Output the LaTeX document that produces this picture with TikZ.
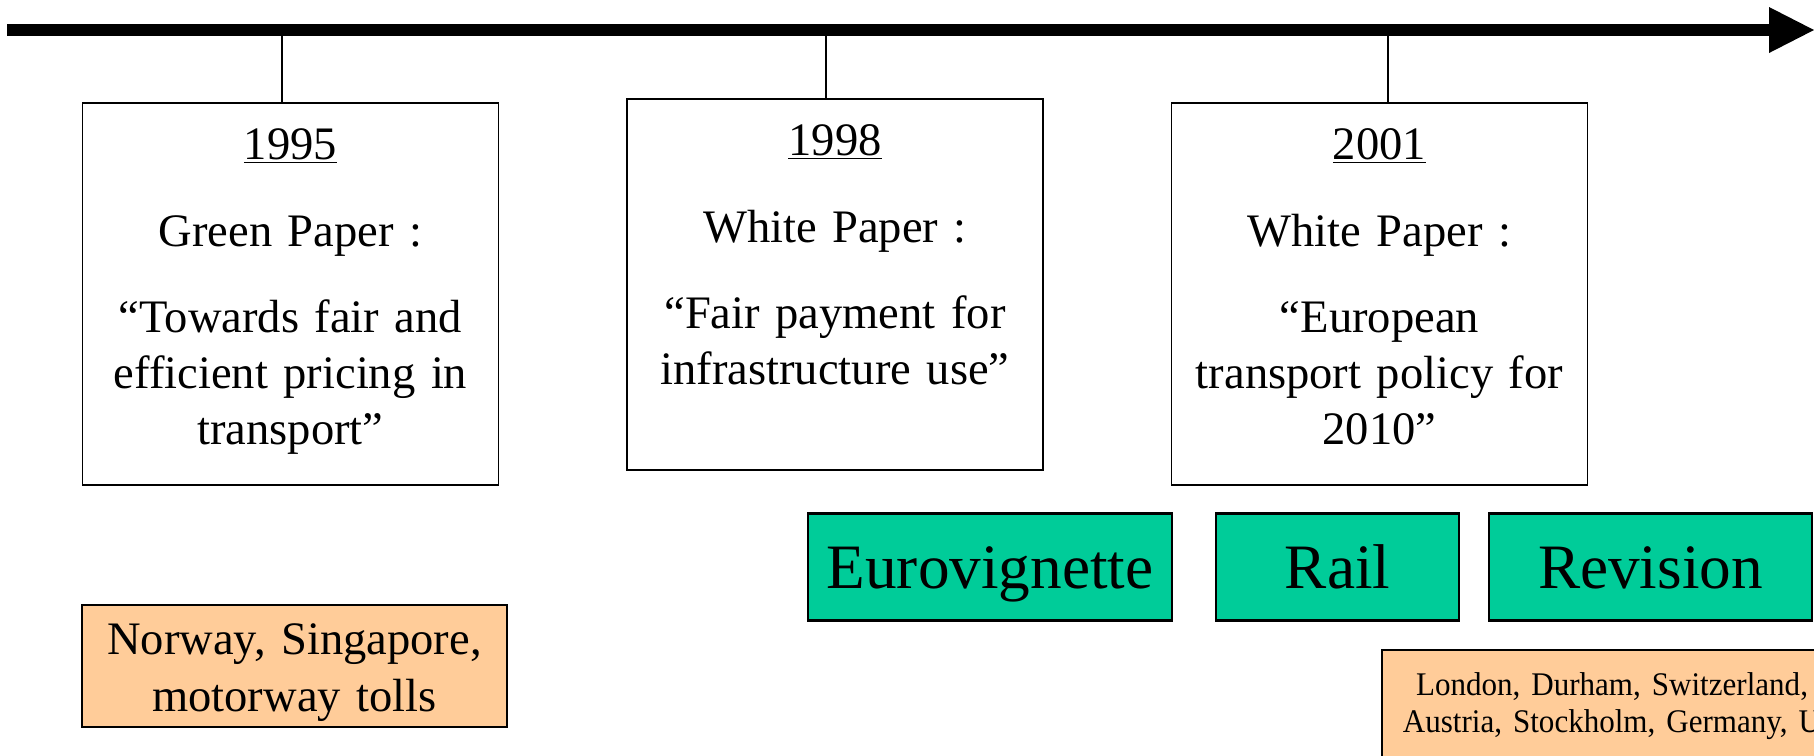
\documentclass[tikz,border=0pt]{standalone}
\usepackage{fontspec}
\setmainfont{Liberation Serif}
\newfontfamily\narrowserif[FakeStretch=0.94]{Liberation Serif}
\usepackage{tikz}
\usetikzlibrary{arrows.meta}
\definecolor{measuregreen}{RGB}{0,204,153}
\definecolor{cityorange}{RGB}{255,204,153}

\begin{document}
\begin{tikzpicture}[x=0.02cm,y=-0.02cm,
	paper/.style={draw,line width=1pt,anchor=north,align=center,text width=8.32cm,inner sep=0pt,text height=1.14cm,font=\fontsize{26.5pt}{32pt}\selectfont},
	measure/.style={draw,line width=1.3pt,fill=measuregreen,inner sep=0pt,minimum height=2.14cm,text height=0.85cm,text depth=0pt,font=\fontsize{36pt}{43pt}\selectfont},
	city/.style={draw,line width=1pt,fill=cityorange,anchor=north,align=center,inner sep=0pt}]
	\useasboundingbox (0,0) rectangle (1814,755);

	\coordinate(tstart) at (7,30);
	\coordinate(tend) at (1814,30);
	\coordinate(t95) at (282,30);
	\coordinate(t98) at (826,30);
	\coordinate(t01) at (1388,30);

	\node[paper,text depth=6.5cm](p95) at (290.5,102){\underline{1995}\\[0.6cm] Green Paper :\\[0.6cm] “Towards fair and\\ efficient pricing in\\ transport”};
	\node[paper,text depth=6.28cm](p98) at (835,98){\underline{1998}\\[0.6cm] White Paper :\\[0.6cm] “Fair payment for\\ infrastructure use”};
	\node[paper,text depth=6.5cm](p01) at (1379.5,102){\underline{2001}\\[0.6cm] White Paper :\\[0.6cm] “European\\ transport policy for\\ 2010”};

	\node[measure,minimum width=7.28cm](euro) at (990,567){Eurovignette};
	\node[measure,minimum width=4.86cm](rail) at (1337.5,567){Rail};
	\node[measure,minimum width=6.46cm](revision) at (1650.5,567){Revision};

	\node[city,text width=8.5cm,text height=1cm,text depth=1.44cm,font=\fontsize{26.5pt}{32pt}\selectfont](norway) at (294.5,604){Norway, Singapore,\\ motorway tolls};
	\node[city,text width=9.2cm,text height=0.92cm,text depth=3cm,font=\narrowserif\fontsize{18.8pt}{21pt}\selectfont](london) at (1612,649){London, Durham, Switzerland,\\ Austria, Stockholm, Germany, U};

	\draw[line width=0.24cm,-{Triangle[length=0.9cm,width=0.92cm,line width=0pt]}] (tstart)--(tend);
	\draw[line width=1pt] (t95)--(t95 |- p95.north);
	\draw[line width=1pt] (t98)--(t98 |- p98.north);
	\draw[line width=1pt] (t01)--(t01 |- p01.north);
\end{tikzpicture}
\end{document}
